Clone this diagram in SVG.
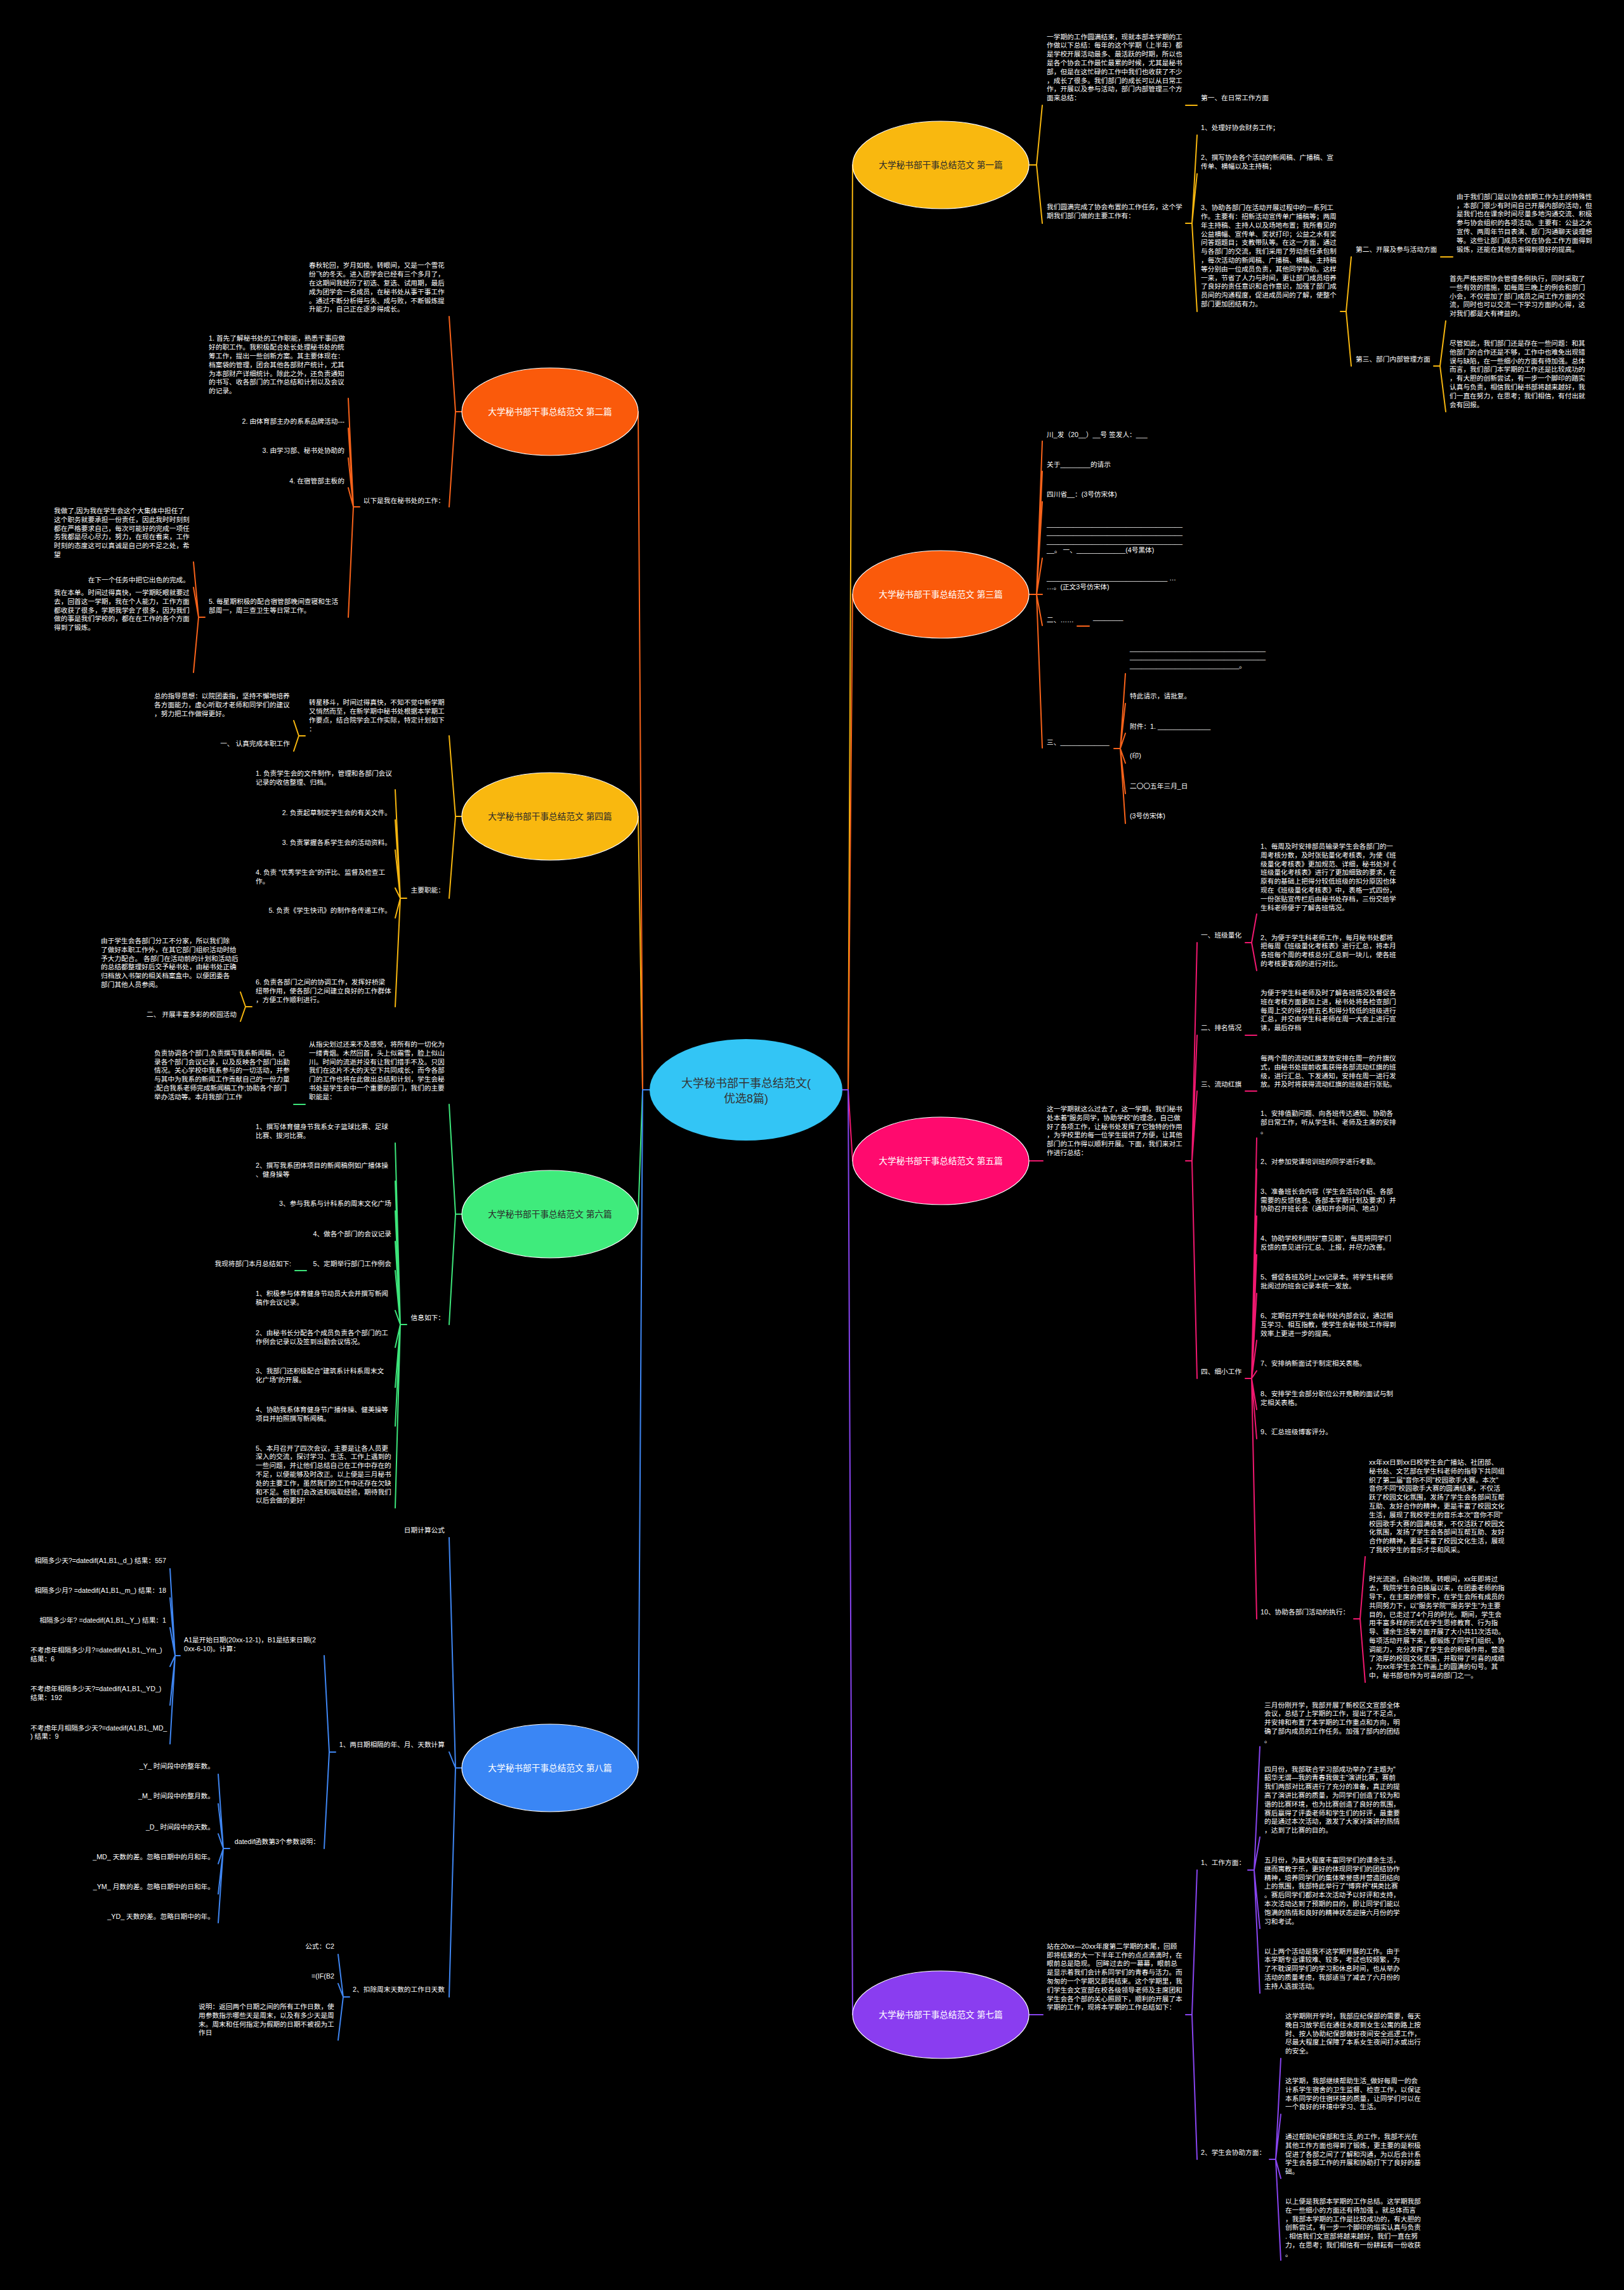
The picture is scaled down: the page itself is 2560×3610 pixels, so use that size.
<svg xmlns="http://www.w3.org/2000/svg" width="2560" height="3610" viewBox="0 0 2560 3610">
<style>
text{font-family:"Liberation Sans","Noto Sans CJK SC",sans-serif;font-size:10.7px;fill:#fff}
.e{text-anchor:end}
.m{text-anchor:middle}
.lb{font-size:13.7px}
.rt{font-size:18px;fill:#333}
.dk{fill:#2a2a2a}
#connectors path{fill:none;stroke-width:2;stroke-linejoin:round;stroke-linecap:round}
.y{stroke:#F5B50F}
.o{stroke:#F7621A}
.p{stroke:#F0186F}
.g{stroke:#3DE57A}
.v{stroke:#8744EE}
.b{stroke:#3F86F2}
.el{stroke:#fff;stroke-width:1.2}
</style>
<rect width="2560" height="3610" fill="#000"/>
<g id="connectors">
<path class="y" d="M1328,1718 H1337 L1344,260 M1024,1718 H1013 L1006,1287 M1622,260 H1634 L1643,166 M1634,260 L1643,352 M1869,166 H1887 M1869,352 H1879 L1887,213 M1879,352 L1887,274 M1879,352 L1887,491 M2113,491 H2122 L2130,405 M2122,491 L2130,577 M2271,405 H2290 M2260,577 H2270 L2279,506 M2270,577 L2279,649 M728,1287 H718 L708,1160 M718,1287 L708,1416 M481,1160 H471 L463,1136 M471,1160 L463,1184 M641,1416 H631 L623,1245 M631,1416 L623,1292.5 M631,1416 L623,1340 M631,1416 L623,1400 M631,1416 L623,1447 M631,1416 L623,1587 M397,1587 H387 L379,1564 M387,1587 L379,1610"/>
<path class="o" d="M1328,1718 H1337 L1344,937 M1024,1718 H1013 L1006,649 M1622,937 H1634 L1643,695.5 M1634,937 L1643,743 M1634,937 L1643,791 M1634,937 L1643,880 M1634,937 L1643,937 M1634,937 L1643,986 M1634,937 L1643,1179 M1698,987 H1717 M1756,1180 H1766 L1774,1062 M1766,1180 L1774,1109 M1766,1180 L1774,1156 M1766,1180 L1774,1203 M1766,1180 L1774,1251 M1766,1180 L1774,1298 M728,649 H718 L708,499 M718,649 L708,799 M567,799 H557 L549,628 M557,799 L549,675 M557,799 L549,722 M557,799 L549,769 M557,799 L549,973 M323,973 H313 L305,886 M313,973 L305,926 M313,973 L305,1060"/>
<path class="p" d="M1328,1718 H1337 L1344,1830 M1622,1830 H1644 M1869,1830 H1879 L1887,1486 M1879,1830 L1887,1632 M1879,1830 L1887,1720 M1879,1830 L1887,2173 M1963,1486 H1973 L1981,1441 M1973,1486 L1981,1530 M1963,1632 H1981 M1963,1720 H1981 M1963,2173 H1973 L1981,1794 M1973,2173 L1981,1843 M1973,2173 L1981,1917 M1973,2173 L1981,1978 M1973,2173 L1981,2039 M1973,2173 L1981,2113 M1973,2173 L1981,2161 M1973,2173 L1981,2222 M1973,2173 L1981,2268 M1973,2173 L1981,2552 M2134,2552 H2144 L2152,2454 M2144,2552 L2152,2652"/>
<path class="g" d="M1024,1718 H1013 L1006,1914 M728,1914 H718 L708,1741 M718,1914 L708,2088 M481,1741 H463 M641,2088 H631 L623,1802 M631,2088 L623,1862 M631,2088 L623,1909 M631,2088 L623,1957 M631,2088 L623,2003 M631,2088 L623,2066 M631,2088 L623,2124 M631,2088 L623,2187 M631,2088 L623,2248 M631,2088 L623,2377 M483,2003 H465"/>
<path class="v" d="M1328,1718 H1337 L1344,3176 M1622,3176 H1644 M1869,3176 H1879 L1887,2948 M1879,3176 L1887,3404 M1967,2948 H1977 L1986,2753.5 M1977,2948 L1986,2896 M1977,2948 L1986,3040 M1977,2948 L1986,3142 M2001,3404 H2011 L2019,3245 M2011,3404 L2019,3333 M2011,3404 L2019,3434 M2011,3404 L2019,3563"/>
<path class="b" d="M1024,1718 H1013 L1006,2787 M728,2787 H718 L708,2424 M718,2787 L708,2762 M718,2787 L708,3148 M529,2762 H519 L511,2610 M519,2762 L511,2914 M284,2610 H276 L268,2473 M276,2610 L268,2519 M276,2610 L268,2566 M276,2610 L268,2627 M276,2610 L268,2688 M276,2610 L268,2749 M362,2914 H352 L344,2797 M352,2914 L344,2843.5 M352,2914 L344,2891 M352,2914 L344,2938 M352,2914 L344,2985.6 M352,2914 L344,3031 M551,3148 H541 L533,3081 M541,3148 L533,3127 M541,3148 L533,3216"/>
</g>
<g id="root">
<ellipse cx="1176" cy="1718" rx="152" ry="80" fill="#33C5F5"/>
<text class="m rt" x="1176" y="1714">大学秘书部干事总结范文(</text>
<text class="m rt" x="1176" y="1738">优选8篇)</text>
</g>
<g id="n1">
<ellipse class="el" cx="1483" cy="260" rx="139" ry="69" fill="#F9B80F"/>
<text class="m lb dk" x="1483" y="265">大学秘书部干事总结范文 第一篇</text>
<text x="1650" y="61.5"><tspan x="1650">一学期的工作圆满结束，现就本部本学期的工</tspan><tspan x="1650" dy="13.8">作做以下总结：每年的这个学期（上半年）都</tspan><tspan x="1650" dy="13.8">是学校开展活动最多、最活跃的时期，所以也</tspan><tspan x="1650" dy="13.8">是各个协会工作最忙最累的时候，尤其是秘书</tspan><tspan x="1650" dy="13.8">部，但是在这忙碌的工作中我们也收获了不少</tspan><tspan x="1650" dy="13.8">，成长了很多。我们部门的成长可以从日常工</tspan><tspan x="1650" dy="13.8">作，开展以及参与活动，部门内部管理三个方</tspan><tspan x="1650" dy="13.8">面来总结：</tspan></text>
<text x="1893" y="158">第一、在日常工作方面</text>
<text x="1650" y="330"><tspan x="1650">我们圆满完成了协会布置的工作任务，这个学</tspan><tspan x="1650" dy="13.8">期我们部门做的主要工作有：</tspan></text>
<text x="1893" y="205">1、处理好协会财务工作；</text>
<text x="1893" y="252"><tspan x="1893">2、撰写协会各个活动的新闻稿、广播稿、宣</tspan><tspan x="1893" dy="13.8">传单、横幅以及主持稿；</tspan></text>
<text x="1893" y="331.2"><tspan x="1893">3、协助各部门在活动开展过程中的一系列工</tspan><tspan x="1893" dy="13.8">作。主要有：招新活动宣传单广播稿等；两周</tspan><tspan x="1893" dy="13.8">年主持稿、主持人以及场地布置；我所看见的</tspan><tspan x="1893" dy="13.8">公益横幅、宣传单、奖状打印；公益之水有奖</tspan><tspan x="1893" dy="13.8">问答题题目；支教带队等。在这一方面，通过</tspan><tspan x="1893" dy="13.8">与各部门的交流，我们采用了劳动责任承包制</tspan><tspan x="1893" dy="13.8">，每次活动的新闻稿、广播稿、横幅、主持稿</tspan><tspan x="1893" dy="13.8">等分别由一位成员负责，其他同学协助。这样</tspan><tspan x="1893" dy="13.8">一来，节省了人力与时间，更让部门成员培养</tspan><tspan x="1893" dy="13.8">了良好的责任意识和合作意识，加强了部门成</tspan><tspan x="1893" dy="13.8">员间的沟通程度，促进成员间的了解，使整个</tspan><tspan x="1893" dy="13.8">部门更加团结有力。</tspan></text>
<text x="2137" y="397">第二、开展及参与活动方面</text>
<text x="2296" y="313.8"><tspan x="2296">由于我们部门是以协会前期工作为主的特殊性</tspan><tspan x="2296" dy="13.8">，本部门很少有时间自己开展内部的活动，但</tspan><tspan x="2296" dy="13.8">是我们也在课余时间尽量多地沟通交流、积极</tspan><tspan x="2296" dy="13.8">参与协会组织的各项活动。主要有：公益之水</tspan><tspan x="2296" dy="13.8">宣传、两周年节目表演、部门沟通聊天谈理想</tspan><tspan x="2296" dy="13.8">等。这些让部门成员不仅在协会工作方面得到</tspan><tspan x="2296" dy="13.8">锻炼，还能在其他方面得到很好的提高。</tspan></text>
<text x="2137" y="570">第三、部门内部管理方面</text>
<text x="2285" y="443"><tspan x="2285">首先严格按照协会管理条例执行，同时采取了</tspan><tspan x="2285" dy="13.8">一些有效的措施，如每周三晚上的例会和部门</tspan><tspan x="2285" dy="13.8">小会，不仅增加了部门成员之间工作方面的交</tspan><tspan x="2285" dy="13.8">流，同时也可以交流一下学习方面的心得，这</tspan><tspan x="2285" dy="13.8">对我们都是大有裨益的。</tspan></text>
<text x="2285" y="545"><tspan x="2285">尽管如此，我们部门还是存在一些问题：和其</tspan><tspan x="2285" dy="13.8">他部门的合作还是不够，工作中也难免出现错</tspan><tspan x="2285" dy="13.8">误与缺陷，在一些细小的方面有待加强。总体</tspan><tspan x="2285" dy="13.8">而言，我们部门本学期的工作还是比较成功的</tspan><tspan x="2285" dy="13.8">，有大胆的创新尝试，有一步一个脚印的踏实</tspan><tspan x="2285" dy="13.8">认真与负责，相信我们秘书部将越来越好，我</tspan><tspan x="2285" dy="13.8">们一直在努力，在思考；我们相信，有付出就</tspan><tspan x="2285" dy="13.8">会有回报。</tspan></text>
</g>
<g id="n3">
<ellipse class="el" cx="1483" cy="937" rx="139" ry="69" fill="#FA5A0B"/>
<text class="m lb" x="1483" y="942">大学秘书部干事总结范文 第三篇</text>
<text x="1650" y="688.7">川_发（20__）__号 签发人：___</text>
<text x="1650" y="735.5">关于________的请示</text>
<text x="1650" y="782.8">四川省__：(3号仿宋体)</text>
<text x="1650" y="829.5"><tspan x="1650">____________________________________</tspan><tspan x="1650" dy="13.8">____________________________________</tspan><tspan x="1650" dy="13.8">____________________________________</tspan><tspan x="1650" dy="13.8">__。 一、_____________(4号黑体)</tspan></text>
<text x="1650" y="915"><tspan x="1650">________________________________ …</tspan><tspan x="1650" dy="13.8">…。(正文3号仿宋体)</tspan></text>
<text x="1650" y="981.4">二、……</text>
<text x="1723" y="977">________</text>
<text x="1650" y="1174">三、_____________</text>
<text x="1781" y="1025.5"><tspan x="1781">____________________________________</tspan><tspan x="1781" dy="13.8">____________________________________</tspan><tspan x="1781" dy="13.8">_____________________________。</tspan></text>
<text x="1781" y="1101">特此请示，请批复。</text>
<text x="1781" y="1148.5">附件：1. ______________</text>
<text x="1781" y="1195">(印)</text>
<text x="1781" y="1243">二〇〇五年三月_日</text>
<text x="1781" y="1290">(3号仿宋体)</text>
</g>
<g id="n5">
<ellipse class="el" cx="1483" cy="1830" rx="139" ry="69" fill="#FF0A6E"/>
<text class="m lb" x="1483" y="1835">大学秘书部干事总结范文 第五篇</text>
<text x="1650" y="1752"><tspan x="1650">这一学期就这么过去了，这一学期，我们秘书</tspan><tspan x="1650" dy="13.8">处本着"服务同学，协助学校"的理念，自己做</tspan><tspan x="1650" dy="13.8">好了各项工作，让秘书处发挥了它独特的作用</tspan><tspan x="1650" dy="13.8">，为学校里的每一位学生提供了方便，让其他</tspan><tspan x="1650" dy="13.8">部门的工作得以顺利开展。下面，我们来对工</tspan><tspan x="1650" dy="13.8">作进行总结：</tspan></text>
<text x="1893" y="1478">一、班级量化</text>
<text x="1987" y="1338"><tspan x="1987">1、每周及时安排部员输录学生会各部门的一</tspan><tspan x="1987" dy="13.8">周考核分数，及时张贴量化考核表，为使《班</tspan><tspan x="1987" dy="13.8">级量化考核表》更加规范、详细，秘书处对《</tspan><tspan x="1987" dy="13.8">班级量化考核表》进行了更加细致的要求，在</tspan><tspan x="1987" dy="13.8">原有的基础上把得分较低班级的扣分原因也体</tspan><tspan x="1987" dy="13.8">现在《班级量化考核表》中，表格一式四份，</tspan><tspan x="1987" dy="13.8">一份张贴宣传栏后由秘书处存档，三份交给学</tspan><tspan x="1987" dy="13.8">生科老师便于了解各班情况。</tspan></text>
<text x="1987" y="1481.5"><tspan x="1987">2、为便于学生科老师工作，每月秘书处都将</tspan><tspan x="1987" dy="13.8">把每周《班级量化考核表》进行汇总，将本月</tspan><tspan x="1987" dy="13.8">各班每个周的考核总分汇总到一块儿，使各班</tspan><tspan x="1987" dy="13.8">的考核更客观的进行对比。</tspan></text>
<text x="1893" y="1624">二、排名情况</text>
<text x="1987" y="1569"><tspan x="1987">为便于学生科老师及时了解各班情况及督促各</tspan><tspan x="1987" dy="13.8">班在考核方面更加上进，秘书处将各检查部门</tspan><tspan x="1987" dy="13.8">每周上交的得分前五名和得分较低的班级进行</tspan><tspan x="1987" dy="13.8">汇总，并交由学生科老师在周一大会上进行宣</tspan><tspan x="1987" dy="13.8">读，最后存档</tspan></text>
<text x="1893" y="1713">三、流动红旗</text>
<text x="1987" y="1672"><tspan x="1987">每两个周的流动红旗发放安排在周一的升旗仪</tspan><tspan x="1987" dy="13.8">式，由秘书处提前收集获得各部流动红旗的班</tspan><tspan x="1987" dy="13.8">级，进行汇总、下发通知，安排在周一进行发</tspan><tspan x="1987" dy="13.8">放。并及时将获得流动红旗的班级进行张贴。</tspan></text>
<text x="1893" y="2165.7">四、细小工作</text>
<text x="1987" y="1759"><tspan x="1987">1、安排值勤问题、向各班传达通知、协助各</tspan><tspan x="1987" dy="13.8">部日常工作，听从学生科、老师及主席的安排</tspan><tspan x="1987" dy="13.8">。</tspan></text>
<text x="1987" y="1835">2、对参加党课培训班的同学进行考勤。</text>
<text x="1987" y="1881.7"><tspan x="1987">3、准备班长会内容（学生会活动介绍、各部</tspan><tspan x="1987" dy="13.8">需要的反馈信息、各部本学期计划及要求）并</tspan><tspan x="1987" dy="13.8">协助召开班长会（通知开会时间、地点）</tspan></text>
<text x="1987" y="1956.3"><tspan x="1987">4、协助学校利用好"意见箱"，每周将同学们</tspan><tspan x="1987" dy="13.8">反馈的意见进行汇总、上报，并尽力改善。</tspan></text>
<text x="1987" y="2017.3"><tspan x="1987">5、督促各班及时上xx记录本。将学生科老师</tspan><tspan x="1987" dy="13.8">批阅过的班会记录本统一发放。</tspan></text>
<text x="1987" y="2078.3"><tspan x="1987">6、定期召开学生会秘书处内部会议，通过相</tspan><tspan x="1987" dy="13.8">互学习、相互指教，使学生会秘书处工作得到</tspan><tspan x="1987" dy="13.8">效率上更进一步的提高。</tspan></text>
<text x="1987" y="2153.3">7、安排纳新面试于制定相关表格。</text>
<text x="1987" y="2200.7"><tspan x="1987">8、安排学生会部分职位公开竞聘的面试与制</tspan><tspan x="1987" dy="13.8">定相关表格。</tspan></text>
<text x="1987" y="2260.7">9、汇总班级博客评分。</text>
<text x="1987" y="2545">10、协助各部门活动的执行：</text>
<text x="2158" y="2309"><tspan x="2158">xx年xx日到xx日校学生会广播站、社团部、</tspan><tspan x="2158" dy="13.8">秘书处、文艺部在学生科老师的指导下共同组</tspan><tspan x="2158" dy="13.8">织了第二届"音你不同"校园歌手大赛。本次"</tspan><tspan x="2158" dy="13.8">音你不同"校园歌手大赛的圆满结束，不仅活</tspan><tspan x="2158" dy="13.8">跃了校园文化氛围，发扬了学生会各部间互帮</tspan><tspan x="2158" dy="13.8">互助、友好合作的精神，更是丰富了校园文化</tspan><tspan x="2158" dy="13.8">生活，展现了我校学生的音乐本次"音你不同"</tspan><tspan x="2158" dy="13.8">校园歌手大赛的圆满结束，不仅活跃了校园文</tspan><tspan x="2158" dy="13.8">化氛围，发扬了学生会各部间互帮互助、友好</tspan><tspan x="2158" dy="13.8">合作的精神，更是丰富了校园文化生活，展现</tspan><tspan x="2158" dy="13.8">了我校学生的音乐才华和风采。</tspan></text>
<text x="2158" y="2493.3"><tspan x="2158">时光流逝，白驹过隙。转眼间，xx年即将过</tspan><tspan x="2158" dy="13.8">去，我院学生会自换届以来，在团委老师的指</tspan><tspan x="2158" dy="13.8">导下，在主席的带领下，在学生会所有成员的</tspan><tspan x="2158" dy="13.8">共同努力下，以"服务学院""服务学生"为主要</tspan><tspan x="2158" dy="13.8">目的，已走过了4个月的时光。期间，学生会</tspan><tspan x="2158" dy="13.8">用丰富多样的形式在学生思修教育、行为指</tspan><tspan x="2158" dy="13.8">导、课余生活等方面开展了大小共11次活动。</tspan><tspan x="2158" dy="13.8">每项活动开展下来，都锻炼了同学们组织、协</tspan><tspan x="2158" dy="13.8">调能力，充分发挥了学生会的积极作用，营造</tspan><tspan x="2158" dy="13.8">了浓厚的校园文化氛围，并取得了可喜的成绩</tspan><tspan x="2158" dy="13.8">，为xx年学生会工作画上的圆满的句号。其</tspan><tspan x="2158" dy="13.8">中，秘书部也作为可喜的部门之一。</tspan></text>
</g>
<g id="n7">
<ellipse class="el" cx="1483" cy="3176" rx="139" ry="69" fill="#8A3DF0"/>
<text class="m lb" x="1483" y="3181">大学秘书部干事总结范文 第七篇</text>
<text x="1650" y="3071.7"><tspan x="1650">站在20xx—20xx年度第二学期的末尾，回顾</tspan><tspan x="1650" dy="13.8">即将结束的大一下半年工作的点点滴滴时，在</tspan><tspan x="1650" dy="13.8">眼前总是隐现。 回眸过去的一幕幕，眼前总</tspan><tspan x="1650" dy="13.8">是显示着我们会计系同学们的青春与活力。而</tspan><tspan x="1650" dy="13.8">匆匆的一个学期又即将结束。这个学期里，我</tspan><tspan x="1650" dy="13.8">们学生会文宣部在校各级领导老师及主席团和</tspan><tspan x="1650" dy="13.8">学生会各个部的关心照顾下，顺利的开展了本</tspan><tspan x="1650" dy="13.8">学期的工作，现将本学期的工作总结如下：</tspan></text>
<text x="1893" y="2939.6">1、工作方面：</text>
<text x="1993" y="2691.5"><tspan x="1993">三月份刚开学，我部开展了新校区文宣部全体</tspan><tspan x="1993" dy="13.8">会议，总结了上学期的工作，提出了不足点，</tspan><tspan x="1993" dy="13.8">并安排和布置了本学期的工作重点和方向，明</tspan><tspan x="1993" dy="13.8">确了部内成员的工作任务。加强了部内的团结</tspan><tspan x="1993" dy="13.8">。</tspan></text>
<text x="1993" y="2792.5"><tspan x="1993">四月份，我部联合学习部成功举办了主题为"</tspan><tspan x="1993" dy="13.8">韶华无谓—我的青春我做主"演讲比赛，赛前</tspan><tspan x="1993" dy="13.8">我们两部对比赛进行了充分的准备，真正的提</tspan><tspan x="1993" dy="13.8">高了演讲比赛的质量，为同学们创造了较为和</tspan><tspan x="1993" dy="13.8">谐的比赛环境，也为比赛创造了良好的氛围，</tspan><tspan x="1993" dy="13.8">赛后赢得了评委老师和学生们的好评，最重要</tspan><tspan x="1993" dy="13.8">的是通过本次活动，激发了大家对演讲的热情</tspan><tspan x="1993" dy="13.8">，达到了比赛的目的。</tspan></text>
<text x="1993" y="2936"><tspan x="1993">五月份，为最大程度丰富同学们的课余生活，</tspan><tspan x="1993" dy="13.8">继而寓教于乐，更好的体现同学们的团结协作</tspan><tspan x="1993" dy="13.8">精神，培养同学们的集体荣誉感并营造团结向</tspan><tspan x="1993" dy="13.8">上的氛围，我部特此举行了"博弈杯"棋类比赛</tspan><tspan x="1993" dy="13.8">。赛后同学们都对本次活动予以好评和支持，</tspan><tspan x="1993" dy="13.8">本次活动达到了预期的目的，即让同学们能以</tspan><tspan x="1993" dy="13.8">饱满的热情和良好的精神状态迎接六月份的学</tspan><tspan x="1993" dy="13.8">习和考试。</tspan></text>
<text x="1993" y="3079.6"><tspan x="1993">以上两个活动是我不这学期开展的工作。由于</tspan><tspan x="1993" dy="13.8">本学期专业课较难、较多，考试也较频繁，为</tspan><tspan x="1993" dy="13.8">了不耽误同学们的学习和休息时间，也从举办</tspan><tspan x="1993" dy="13.8">活动的质量考虑，我部适当了减去了六月份的</tspan><tspan x="1993" dy="13.8">主持人选拔活动。</tspan></text>
<text x="1893" y="3397">2、学生会协助方面：</text>
<text x="2026" y="3182"><tspan x="2026">这学期刚开学时，我部应纪保部的需要，每天</tspan><tspan x="2026" dy="13.8">晚自习放学后在通往水房到女生公寓的路上按</tspan><tspan x="2026" dy="13.8">时、按人协助纪保部做好夜间安全巡逻工作，</tspan><tspan x="2026" dy="13.8">尽最大程度上保障了本系女生夜间打水或出行</tspan><tspan x="2026" dy="13.8">的安全。</tspan></text>
<text x="2026" y="3284"><tspan x="2026">这学期，我部继续帮助生活_做好每周一的会</tspan><tspan x="2026" dy="13.8">计系学生宿舍的卫生监督、检查工作，以保证</tspan><tspan x="2026" dy="13.8">本系同学的住宿环境的质量，让同学们可以在</tspan><tspan x="2026" dy="13.8">一个良好的环境中学习、生活。</tspan></text>
<text x="2026" y="3372"><tspan x="2026">通过帮助纪保部和生活_的工作，我部不光在</tspan><tspan x="2026" dy="13.8">其他工作方面也得到了锻炼，更主要的是积极</tspan><tspan x="2026" dy="13.8">促进了各部之间了了解和沟通，为以后会计系</tspan><tspan x="2026" dy="13.8">学生会各部工作的开展和协助打下了良好的基</tspan><tspan x="2026" dy="13.8">础。</tspan></text>
<text x="2026" y="3474"><tspan x="2026">以上便是我部本学期的工作总结。这学期我部</tspan><tspan x="2026" dy="13.8">在一些细小的方面还有待加强 。就总体而言</tspan><tspan x="2026" dy="13.8">，我部本学期的工作是比较成功的，有大胆的</tspan><tspan x="2026" dy="13.8">创新尝试，有一步一个脚印的塌实认真与负责</tspan><tspan x="2026" dy="13.8">. 相信我们文宣部将越来越好，我们一直在努</tspan><tspan x="2026" dy="13.8">力，在思考；我们相信有一份耕耘有一份收获</tspan><tspan x="2026" dy="13.8">。</tspan></text>
</g>
<g id="n2">
<ellipse class="el" cx="867" cy="649" rx="139" ry="69" fill="#FA5A0B"/>
<text class="m lb" x="867" y="654">大学秘书部干事总结范文 第二篇</text>
<text x="487" y="422.4"><tspan x="487">春秋轮回，岁月如梭。转眼间，又是一个雪花</tspan><tspan x="487" dy="13.8">纷飞的冬天。进入团学会已经有三个多月了，</tspan><tspan x="487" dy="13.8">在这期间我经历了初选、复选、试用期，最后</tspan><tspan x="487" dy="13.8">成为团学会一名成员，在秘书处从事干事工作</tspan><tspan x="487" dy="13.8">。通过不断分析得与失、成与败，不断锻炼提</tspan><tspan x="487" dy="13.8">升能力，自己正在逐步得成长。</tspan></text>
<text class="e" x="701" y="793">以下是我在秘书处的工作：</text>
<text x="329" y="537.4"><tspan x="329">1. 首先了解秘书处的工作职能，熟悉干事应做</tspan><tspan x="329" dy="13.8">好的职工作。我积极配合处长处理秘书处的统</tspan><tspan x="329" dy="13.8">筹工作，提出一些创新方案。其主要体现在：</tspan><tspan x="329" dy="13.8">档案袋的管理，团会其他各部财产统计，尤其</tspan><tspan x="329" dy="13.8">为本部财产详细统计。除此之外，还负责通知</tspan><tspan x="329" dy="13.8">的书写、收各部门的工作总结和计划以及会议</tspan><tspan x="329" dy="13.8">的记录。</tspan></text>
<text class="e" x="543" y="667.5">2. 由体育部主办的系系品牌活动---</text>
<text class="e" x="543" y="714">3. 由学习部、秘书处协助的</text>
<text class="e" x="543" y="761.6">4. 在宿管部主板的</text>
<text x="329" y="952.2"><tspan x="329">5. 每星期积极的配合宿管部晚间查寝和生活</tspan><tspan x="329" dy="13.8">部周一，周三查卫生等日常工作。</tspan></text>
<text x="85" y="809"><tspan x="85">我做了,因为我在学生会这个大集体中担任了</tspan><tspan x="85" dy="13.8">这个职务就要承担一份责任，因此我时时刻刻</tspan><tspan x="85" dy="13.8">都在严格要求自己，每次可能好的完成一项任</tspan><tspan x="85" dy="13.8">务我都是尽心尽力，努力，在现在看来，工作</tspan><tspan x="85" dy="13.8">时刻的态度这可以真诚是自己的不足之处，希</tspan><tspan x="85" dy="13.8">望</tspan></text>
<text class="e" x="299" y="918">在下一个任务中把它出色的完成。</text>
<text x="85" y="938"><tspan x="85">我在本单。时间过得真快，一学期眨眼就要过</tspan><tspan x="85" dy="13.8">去，回首这一学期，我在个人能力，工作方面</tspan><tspan x="85" dy="13.8">都收获了很多，学期我学会了很多，因为我们</tspan><tspan x="85" dy="13.8">做的事是我们学校的，都在在工作的各个方面</tspan><tspan x="85" dy="13.8">得到了锻炼。</tspan></text>
</g>
<g id="n4">
<ellipse class="el" cx="867" cy="1287" rx="139" ry="69" fill="#F9B80F"/>
<text class="m lb dk" x="867" y="1292">大学秘书部干事总结范文 第四篇</text>
<text x="487" y="1111.4"><tspan x="487">转星移斗，时间过得真快，不知不觉中新学期</tspan><tspan x="487" dy="13.8">又悄然而至，在新学期中秘书处根据本学期工</tspan><tspan x="487" dy="13.8">作要点，结合院学会工作实际，特定计划如下</tspan><tspan x="487" dy="13.8">：</tspan></text>
<text x="243" y="1101"><tspan x="243">总的指导思想：以院团委指，坚持不懈地培养</tspan><tspan x="243" dy="13.8">各方面能力，虚心听取才老师和同学们的建议</tspan><tspan x="243" dy="13.8">，努力把工作做得更好。</tspan></text>
<text class="e" x="457" y="1176">一、 认真完成本职工作</text>
<text class="e" x="701" y="1407">主要职能：</text>
<text x="403" y="1223"><tspan x="403">1. 负责学生会的文件制作，管理和各部门会议</tspan><tspan x="403" dy="13.8">记录的收信整理、归档。</tspan></text>
<text class="e" x="617" y="1284.7">2. 负责起草制定学生会的有关文件。</text>
<text class="e" x="617" y="1331.5">3. 负责掌握各系学生会的活动资料。</text>
<text x="403" y="1379"><tspan x="403">4. 负责 "优秀学生会"的评比、监督及检查工</tspan><tspan x="403" dy="13.8">作。</tspan></text>
<text class="e" x="617" y="1439">5. 负责《学生快讯》的制作各传递工作。</text>
<text x="403" y="1552"><tspan x="403">6. 负责各部门之间的协调工作，发挥好桥梁</tspan><tspan x="403" dy="13.8">纽带作用，使各部门之间建立良好的工作群体</tspan><tspan x="403" dy="13.8">，方便工作顺利进行。</tspan></text>
<text x="159" y="1487"><tspan x="159">由于学生会各部门分工不分家，所以我们除</tspan><tspan x="159" dy="13.8">了做好本职工作外，在其它部门组织活动时给</tspan><tspan x="159" dy="13.8">予大力配合。 各部门在活动前的计划和活动后</tspan><tspan x="159" dy="13.8">的总结都整理好后交予秘书处，由秘书处正确</tspan><tspan x="159" dy="13.8">归档放入书架的相关档案盒中。以便团委各</tspan><tspan x="159" dy="13.8">部门其他人员参阅。</tspan></text>
<text class="e" x="373" y="1603">二、 开展丰富多彩的校园活动</text>
</g>
<g id="n6">
<ellipse class="el" cx="867" cy="1914" rx="139" ry="69" fill="#3FEB7C"/>
<text class="m lb dk" x="867" y="1919">大学秘书部干事总结范文 第六篇</text>
<text x="487" y="1650"><tspan x="487">从指尖划过还来不及感受，将所有的一切化为</tspan><tspan x="487" dy="13.8">一缕青烟。木然回首，头上似霜雪，脸上似山</tspan><tspan x="487" dy="13.8">川。时间的流逝并没有让我们措手不及。只因</tspan><tspan x="487" dy="13.8">我们在这片不大的天空下共同成长，而今各部</tspan><tspan x="487" dy="13.8">门的工作也将在此做出总结和计划，学生会秘</tspan><tspan x="487" dy="13.8">书处是学生会中一个重要的部门，我们的主要</tspan><tspan x="487" dy="13.8">职能是：</tspan></text>
<text x="243" y="1663.7"><tspan x="243">负责协调各个部门,负责撰写我系新闻稿，记</tspan><tspan x="243" dy="13.8">录各个部门会议记录，以及反映各个部门出勤</tspan><tspan x="243" dy="13.8">情况。关心学校中我系参与的一切活动，并参</tspan><tspan x="243" dy="13.8">与其中为我系的新闻工作贡献自己的一份力量</tspan><tspan x="243" dy="13.8">;配合我系老师完成新闻稿工作;协助各个部门</tspan><tspan x="243" dy="13.8">举办活动等。本月我部门工作</tspan></text>
<text class="e" x="701" y="2080.6">信息如下：</text>
<text x="403" y="1780"><tspan x="403">1、撰写体育健身节我系女子篮球比赛、足球</tspan><tspan x="403" dy="13.8">比赛、拔河比赛。</tspan></text>
<text x="403" y="1840.7"><tspan x="403">2、撰写我系团体项目的新闻稿例如广播体操</tspan><tspan x="403" dy="13.8">、健身操等</tspan></text>
<text class="e" x="617" y="1901">3、参与我系与计科系的周末文化广场</text>
<text class="e" x="617" y="1948.8">4、做各个部门的会议记录</text>
<text class="e" x="617" y="1995.8">5、定期举行部门工作例会</text>
<text class="e" x="459" y="1995.8">我现将部门本月总结如下:</text>
<text x="403" y="2043"><tspan x="403">1、积极参与体育健身节动员大会并撰写新闻</tspan><tspan x="403" dy="13.8">稿作会议记录。</tspan></text>
<text x="403" y="2105"><tspan x="403">2、由秘书长分配各个成员负责各个部门的工</tspan><tspan x="403" dy="13.8">作例会记录以及签到出勤会议情况。</tspan></text>
<text x="403" y="2165.4"><tspan x="403">3、我部门还积极配合"建筑系计科系周末文</tspan><tspan x="403" dy="13.8">化广场"的开展。</tspan></text>
<text x="403" y="2226"><tspan x="403">4、协助我系体育健身节广播体操、健美操等</tspan><tspan x="403" dy="13.8">项目并拍照撰写新闻稿。</tspan></text>
<text x="403" y="2286.6"><tspan x="403">5、本月召开了四次会议，主要是让各人员更</tspan><tspan x="403" dy="13.8">深入的交流，探讨学习、生活、工作上遇到的</tspan><tspan x="403" dy="13.8">一些问题，并让他们总结自己在工作中存在的</tspan><tspan x="403" dy="13.8">不足，以便能够及时改正。以上便是三月秘书</tspan><tspan x="403" dy="13.8">处的主要工作，虽然我们的工作中还存在欠缺</tspan><tspan x="403" dy="13.8">和不足。但我们会改进和吸取经验，期待我们</tspan><tspan x="403" dy="13.8">以后会做的更好!</tspan></text>
</g>
<g id="n8">
<ellipse class="el" cx="867" cy="2787" rx="139" ry="69" fill="#3A86F5"/>
<text class="m lb" x="867" y="2792">大学秘书部干事总结范文 第八篇</text>
<text class="e" x="701" y="2416.4">日期计算公式</text>
<text class="e" x="701" y="2754">1、两日期相隔的年、月、天数计算</text>
<text x="290" y="2589"><tspan x="290">A1是开始日期(20xx-12-1)，B1是结束日期(2</tspan><tspan x="290" dy="13.8">0xx-6-10)。计算：</tspan></text>
<text class="e" x="262" y="2464">相隔多少天?=datedif(A1,B1,_d_) 结果：557</text>
<text class="e" x="262" y="2510.6">相隔多少月? =datedif(A1,B1,_m_) 结果：18</text>
<text class="e" x="262" y="2558">相隔多少年? =datedif(A1,B1,_Y_) 结果：1</text>
<text x="48" y="2605"><tspan x="48">不考虑年相隔多少月?=datedif(A1,B1,_Ym_)</tspan><tspan x="48" dy="13.8">结果：6</tspan></text>
<text x="48" y="2666.4"><tspan x="48">不考虑年相隔多少天?=datedif(A1,B1,_YD_)</tspan><tspan x="48" dy="13.8">结果：192</tspan></text>
<text x="48" y="2727.6"><tspan x="48">不考虑年月相隔多少天?=datedif(A1,B1,_MD_</tspan><tspan x="48" dy="13.8">) 结果：9</tspan></text>
<text class="e" x="504" y="2907">datedif函数第3个参数说明：</text>
<text class="e" x="338" y="2788">_Y_ 时间段中的整年数。</text>
<text class="e" x="338" y="2835">_M_ 时间段中的整月数。</text>
<text class="e" x="338" y="2883.5">_D_ 时间段中的天数。</text>
<text class="e" x="338" y="2930.5">_MD_ 天数的差。忽略日期中的月和年。</text>
<text class="e" x="338" y="2977.6">_YM_ 月数的差。忽略日期中的日和年。</text>
<text class="e" x="338" y="3024.7">_YD_ 天数的差。忽略日期中的年。</text>
<text class="e" x="701" y="3139.7">2、扣除周末天数的工作日天数</text>
<text class="e" x="527" y="3071.7">公式：C2</text>
<text class="e" x="527" y="3118.8">=(IF(B2</text>
<text x="313" y="3167"><tspan x="313">说明：返回两个日期之间的所有工作日数，使</tspan><tspan x="313" dy="13.8">用参数指示哪些天是周末，以及有多少天是周</tspan><tspan x="313" dy="13.8">末。周末和任何指定为假期的日期不被视为工</tspan><tspan x="313" dy="13.8">作日</tspan></text>
</g>
</svg>
